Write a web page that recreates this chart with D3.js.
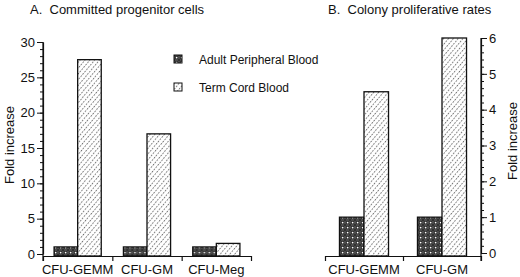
<!DOCTYPE html>
<html>
<head>
<meta charset="utf-8">
<script src="https://cdn.jsdelivr.net/npm/d3@7"></script>
<style>
  body { margin:0; background:#fff; }
  text { font-family: "Liberation Sans", Arial, sans-serif; fill:#111; }
</style>
</head>
<body>
<div id="chart"></div>
<script>
// data
var series = ["Adult Peripheral Blood", "Term Cord Blood"]
var catsA = ["CFU-GEMM", "CFU-GM", "CFU-Meg"]
var adultA = [1, 1, 1]
var cordA = [27.5, 17, 1.5]
var ticksA = [0, 5, 10, 15, 20, 25, 30]
var catsB = ["CFU-GEMM", "CFU-GM"]
var adultB = [1, 1]
var cordB = [4.5, 6]
var ticksB = [0, 1, 2, 3, 4, 5, 6]

var svg = d3.select('#chart').append('svg').attr('width', 520).attr('height', 277)

// patterns
var defs = svg.append('defs')
var pDark = defs.append('pattern').attr('id', 'pdark').attr('patternUnits', 'userSpaceOnUse')
  .attr('width', 5).attr('height', 5)
pDark.append('rect').attr('width', 5).attr('height', 5).attr('fill', '#4a4a4a')
pDark.append('path').attr('d', 'M0,0L5,5M5,0L0,5').attr('stroke', '#262626').attr('stroke-width', 0.7)
pDark.append('rect').attr('x', 2).attr('y', 2).attr('width', 1.3).attr('height', 1.3).attr('fill', '#fff')

var pLight = defs.append('pattern').attr('id', 'plight').attr('patternUnits', 'userSpaceOnUse')
  .attr('width', 3.7).attr('height', 6).attr('patternTransform', 'rotate(40)')
pLight.append('rect').attr('width', 3.7).attr('height', 6).attr('fill', '#fff')
pLight.append('line').attr('x1', 0.5).attr('y1', 0).attr('x2', 0.5).attr('y2', 6)
  .attr('stroke', '#444').attr('stroke-width', 0.8).attr('stroke-dasharray', '1.6,1.4')

var fills = ['url(#pdark)', 'url(#plight)']

function panel(opt) {
  var g = svg.append('g')
  var x0 = d3.scaleBand().domain(opt.cats).range([opt.left, opt.right]).padding(0)
  var x1 = d3.scaleBand().domain(series).range([0, x0.step()]).paddingInner(0).paddingOuter(opt.po)
  var y = d3.scaleLinear().domain([0, opt.max]).range([opt.y0, opt.y1])

  // bars
  var data = opt.cats.map(function(c, i) {
    return {cat: c, vals: [opt.adult[i], opt.cord[i]]}
  })
  g.selectAll('g.grp').data(data).enter().append('g').attr('class', 'grp')
    .attr('transform', function(d) { return 'translate(' + x0(d.cat) + ',0)' })
    .selectAll('rect').data(function(d) { return d.vals.map(function(v, j) { return {s: series[j], v: v, j: j} }) })
    .enter().append('rect')
    .attr('x', function(d) { return x1(d.s) })
    .attr('width', x1.bandwidth())
    .attr('y', function(d) { return y(d.v) })
    .attr('height', function(d) { return opt.base - y(d.v) })
    .attr('fill', function(d) { return fills[d.j] })
    .attr('stroke', '#111').attr('stroke-width', 1.3)

  // x axis: ticks at category boundaries
  var xb = d3.scaleLinear().domain([0, opt.cats.length]).range([opt.left, opt.right])
  g.append('g').attr('transform', 'translate(0,' + opt.base + ')')
    .call(d3.axisBottom(xb).tickValues(d3.range(opt.cats.length + 1)).tickFormat('').tickSize(5).tickSizeOuter(0))
    .call(function(a) { a.select('.domain').attr('stroke', '#111').attr('stroke-width', 1.2); a.selectAll('line').attr('stroke', '#111').attr('stroke-width', 1.2) })
  g.selectAll('text.cat').data(opt.cats).enter().append('text').attr('class', 'cat')
    .attr('x', function(d) { return x0(d) + x0.bandwidth() / 2 })
    .attr('y', opt.base + 18)
    .attr('text-anchor', 'middle').style('font-size', '13px')
    .text(function(d) { return d })

  // y axis
  var axis = opt.side == 'left' ? d3.axisLeft(y) : d3.axisRight(y)
  var ax = g.append('g').attr('transform', 'translate(' + opt.ax + ',0)')
  var minor = opt.side == 'left' ? d3.axisLeft(y) : d3.axisRight(y)
  ax.call(minor.tickValues(d3.range(0, opt.max + 1e-9, opt.minorStep)).tickFormat('').tickSize(3).tickSizeOuter(0))
  ax.append('g').call(axis.tickValues(opt.ticks).tickFormat(d3.format('d')).tickSize(6).tickSizeOuter(0).tickPadding(opt.pad))
    .call(function(a) { a.selectAll('text').style('font-size', '13px').attr('fill', '#111') })
  ax.selectAll('.domain').attr('stroke', '#111').attr('stroke-width', 1.2)
  ax.selectAll('line').attr('stroke', '#111').attr('stroke-width', 1)
  ax.select('.domain').attr('d', 'M0,' + y(opt.max) + 'V' + (opt.base + 5))

  g.append('text').attr('transform', 'translate(' + opt.labelX + ',' + opt.labelY + ') rotate(-90)')
    .attr('text-anchor', 'middle').style('font-size', '13px').text('Fold increase')

  g.append('text').attr('x', opt.titleX).attr('y', 14).attr('xml:space', 'preserve')
    .style('font-size', '13px').text(opt.title)
}

panel({cats: catsA, adult: adultA, cord: cordA, max: 30, ticks: ticksA, minorStep: 1, pad: 2,
  left: 43, right: 251, po: 0.47, y0: 254, y1: 42, base: 256, side: 'left', ax: 43,
  labelX: 14, labelY: 145, title: 'A.  Committed progenitor cells', titleX: 30})

panel({cats: catsB, adult: adultB, cord: cordB, max: 6, ticks: ticksB, minorStep: 0.2, pad: 2,
  left: 325, right: 481, po: 0.59, y0: 253, y1: 38, base: 256, side: 'right', ax: 481,
  labelX: 517, labelY: 141, title: 'B.  Colony proliferative rates', titleX: 328})

// legend
var leg = svg.append('g').selectAll('g').data(series).enter().append('g')
  .attr('transform', function(d, i) { return 'translate(174,' + (55 + i * 28) + ')' })
leg.append('rect').attr('width', 8).attr('height', 8)
  .attr('fill', function(d, i) { return fills[i] }).attr('stroke', '#111').attr('stroke-width', 1)
leg.append('text').attr('x', 25).attr('y', 8.5).style('font-size', '12px').text(function(d) { return d })
</script>
</body>
</html>
